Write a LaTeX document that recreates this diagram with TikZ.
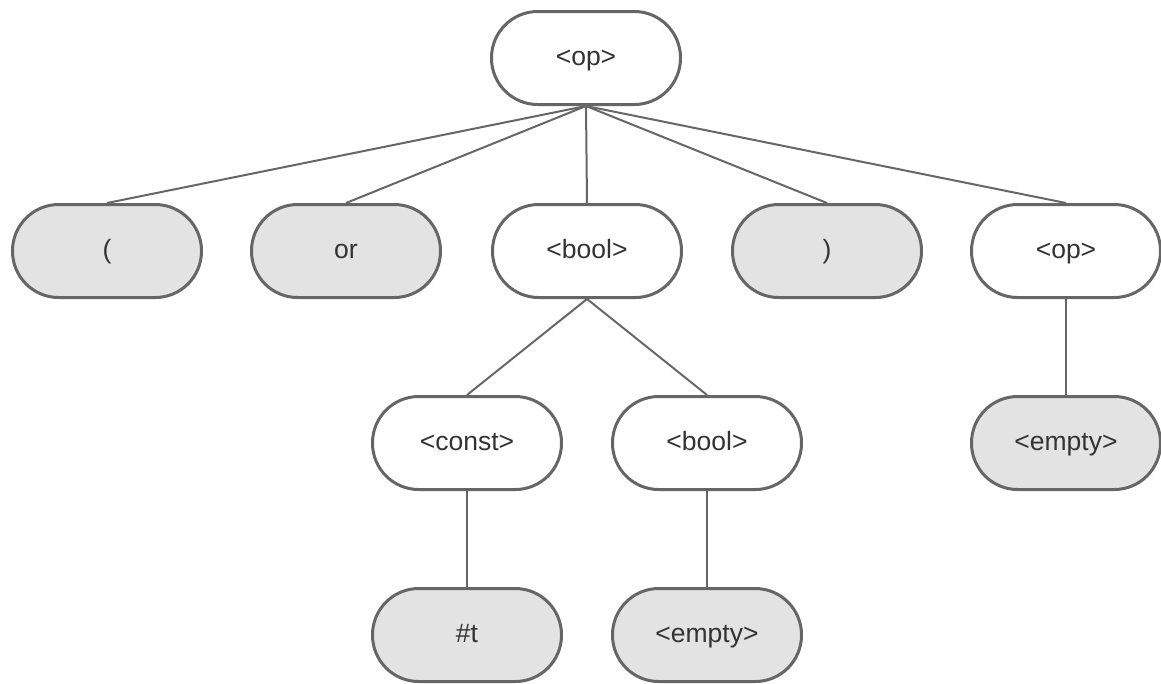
\documentclass[tikz,border=0pt]{standalone}
\usepackage{fontspec}
\setmainfont{Liberation Sans}
\definecolor{edgegray}{RGB}{102,102,102}
\definecolor{leafgray}{RGB}{227,227,227}
\definecolor{textgray}{RGB}{51,51,51}
\begin{document}
\begin{tikzpicture}[x=0.4pt,y=-0.4pt,
    nonterm/.style={draw=edgegray,line width=1.2pt,fill=white,rounded corners=18.5pt,
      minimum width=75.6pt,minimum height=37.2pt,inner sep=0pt,text=textgray,
      text height=7.6pt,text depth=1.6pt,
      font=\fontsize{10.6}{12}\selectfont},
    term/.style={nonterm,fill=leafgray},
    branch/.style={draw=edgegray,line width=0.8pt}]
  \useasboundingbox (0,0) rectangle (1161,683);

  % Root
  \node [nonterm] (op) at (586,58) {<op>};

  % Children of the root
  \node [term] (lpar) at (107,251) {(};
  \node [term] (or) at (346,251) {or};
  \node [nonterm] (bool) at (587,251) {<bool>};
  \node [term] (rpar) at (827,251) {)};
  \node [nonterm] (op2) at (1066,251) {<op>};

  % Third row
  \node [nonterm] (const) at (467,443) {<const>};
  \node [nonterm] (bool2) at (707,443) {<bool>};
  \node [term] (empty3) at (1066,443) {<empty>};

  % Leaves
  \node [term] (true) at (467,635) {\#t};
  \node [term] (empty2) at (707,635) {<empty>};

  % Drawing branches
  \foreach \c in {lpar,or,bool,rpar,op2}
    \draw [branch] (op.south) -- (\c.north);
  \draw [branch] (bool.south) -- (const.north);
  \draw [branch] (bool.south) -- (bool2.north);
  \draw [branch] (op2.south) -- (empty3.north);
  \draw [branch] (const.south) -- (true.north);
  \draw [branch] (bool2.south) -- (empty2.north);
\end{tikzpicture}
\end{document}
